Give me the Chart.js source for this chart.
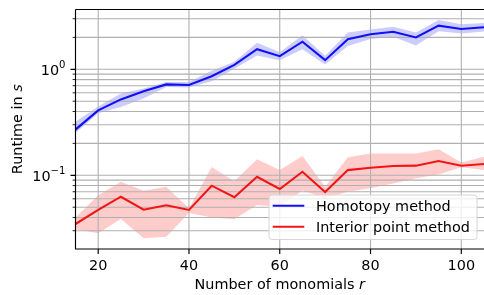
<!DOCTYPE html>
<html><head><meta charset="utf-8">
<script src="https://cdn.jsdelivr.net/npm/chart.js@4.4.0/dist/chart.umd.min.js"></script>
<style>html,body{margin:0;padding:0;background:#fff;overflow:hidden}</style>
</head><body>
<canvas id="c" width="484" height="295"></canvas>
<script>
// ---- data ----
const monomials = [15,20,25,30,35,40,45,50,55,60,65,70,75,80,85,90,95,100,105];
const homotopyMean  = [0.27,0.41,0.52,0.62,0.72,0.71,0.86,1.10,1.55,1.33,1.82,1.22,1.92,2.14,2.26,2.00,2.58,2.40,2.49];
const homotopyUpper = [0.32,0.445,0.59,0.66,0.76,0.76,0.97,1.18,1.78,1.45,2.10,1.34,2.22,2.38,2.52,2.22,2.92,2.66,2.74];
const homotopyLower = [0.25,0.385,0.44,0.53,0.68,0.675,0.77,1.01,1.35,1.22,1.55,1.11,1.66,1.93,2.03,1.68,2.28,2.18,2.27];
const interiorMean  = [0.0347,0.0471,0.0628,0.0474,0.0521,0.0471,0.0798,0.0620,0.0970,0.0743,0.108,0.0695,0.112,0.118,0.1225,0.1233,0.1365,0.123,0.128];
const interiorUpper = [0.040,0.065,0.087,0.0716,0.078,0.049,0.120,0.088,0.1416,0.112,0.152,0.078,0.148,0.161,0.161,0.161,0.176,0.132,0.150];
const interiorLower = [0.031,0.0284,0.0387,0.0255,0.0263,0.044,0.040,0.0385,0.0525,0.0506,0.072,0.0608,0.070,0.0755,0.0838,0.0937,0.102,0.119,0.112];
const seriesNames = ['Homotopy method','Interior point method'];
const xTickValues = [20,40,60,80,100];
const xTickLabels = ['20','40','60','80','100'];
const yMajorTicks = [0.1, 1];
const yMajorExponents = ['\u22121','0'];
const yMinorTicks = [0.03,0.04,0.05,0.06,0.07,0.08,0.09,0.2,0.3,0.4,0.5,0.6,0.7,0.8,0.9,2,3];
const xTitle = ['Number of monomials ', 'r'];
const yTitle = ['Runtime in ', 's'];

const FONT = '"DejaVu Sans", "Liberation Sans", sans-serif';
const FS = 14.4;
const BLUE = 'rgb(16,16,245)';
const RED = 'rgb(240,22,22)';
const GRID = '#b0b0b0';

const pts = (ys) => monomials.map((x,i)=>({x, y: ys[i]}));
const hidden = {pointRadius:0, borderWidth:0, borderColor:'rgba(0,0,0,0)', tension:0};

const decor = {
  id:'decor',
  beforeDatasetDraw(chart, args){
    if (args.index !== 1) return;
    const {ctx, chartArea:a, scales:{x,y}} = chart;
    ctx.save();
    ctx.strokeStyle = GRID; ctx.lineWidth = 1.1;
    ctx.beginPath();
    xTickValues.forEach(v=>{ const p=x.getPixelForValue(v); ctx.moveTo(p,a.top); ctx.lineTo(p,a.bottom); });
    yMajorTicks.concat(yMinorTicks).forEach(v=>{ const p=y.getPixelForValue(v); ctx.moveTo(a.left,p); ctx.lineTo(a.right,p); });
    ctx.stroke();
    ctx.restore();
  },
  afterDraw(chart){
    const {ctx, chartArea:a, scales:{x,y}} = chart;
    ctx.save();
    // spines
    ctx.strokeStyle = '#000'; ctx.lineWidth = 1.15;
    ctx.beginPath();
    ctx.moveTo(a.left, a.top); ctx.lineTo(a.left, a.bottom); ctx.lineTo(a.right, a.bottom);
    ctx.moveTo(a.left, a.top); ctx.lineTo(a.right, a.top);
    ctx.stroke();
    // ticks
    ctx.beginPath();
    xTickValues.forEach(v=>{ const p=x.getPixelForValue(v); ctx.moveTo(p,a.bottom); ctx.lineTo(p,a.bottom+5); });
    yMajorTicks.forEach(v=>{ const p=y.getPixelForValue(v); ctx.moveTo(a.left,p); ctx.lineTo(a.left-5,p); });
    ctx.stroke();
    ctx.lineWidth = 0.85;
    ctx.beginPath();
    yMinorTicks.forEach(v=>{ const p=y.getPixelForValue(v); ctx.moveTo(a.left,p); ctx.lineTo(a.left-2.9,p); });
    ctx.stroke();
    // tick labels
    ctx.fillStyle = '#000';
    ctx.textBaseline = 'alphabetic';
    ctx.font = FS + 'px ' + FONT;
    ctx.textAlign = 'center';
    xTickValues.forEach((v,i)=>{ ctx.fillText(xTickLabels[i], x.getPixelForValue(v), 269.5); });
    const rightX = a.left - 10;
    yMajorTicks.forEach((v,i)=>{
      const p = y.getPixelForValue(v);
      ctx.font = '10.1px ' + FONT; ctx.textAlign = 'right';
      const ew = ctx.measureText(yMajorExponents[i]).width;
      ctx.fillText(yMajorExponents[i], rightX, p - 1.6);
      ctx.font = FS + 'px ' + FONT;
      ctx.fillText('10', rightX - ew, p + 5.3);
    });
    // axis titles
    ctx.textAlign = 'left';
    ctx.font = FS + 'px ' + FONT;
    let w1 = ctx.measureText(xTitle[0]).width;
    ctx.font = 'italic ' + FS + 'px ' + FONT;
    let w2 = ctx.measureText(xTitle[1]).width;
    let cx = (a.left + a.right)/2, sx = cx - (w1+w2)/2;
    ctx.font = FS + 'px ' + FONT; ctx.fillText(xTitle[0], sx, 289);
    ctx.font = 'italic ' + FS + 'px ' + FONT; ctx.fillText(xTitle[1], sx + w1, 289);
    ctx.save();
    ctx.translate(22, (a.top + a.bottom)/2);
    ctx.rotate(-Math.PI/2);
    ctx.font = FS + 'px ' + FONT; w1 = ctx.measureText(yTitle[0]).width;
    ctx.font = 'italic ' + FS + 'px ' + FONT; w2 = ctx.measureText(yTitle[1]).width;
    sx = -(w1+w2)/2;
    ctx.font = FS + 'px ' + FONT; ctx.fillText(yTitle[0], sx, 0);
    ctx.font = 'italic ' + FS + 'px ' + FONT; ctx.fillText(yTitle[1], sx + w1, 0);
    ctx.restore();
    // legend
    const lx = 269, ly = 195, lw = 208, lh = 44.5, r = 3;
    ctx.beginPath();
    ctx.moveTo(lx+r, ly); ctx.lineTo(lx+lw-r, ly); ctx.arcTo(lx+lw, ly, lx+lw, ly+r, r);
    ctx.lineTo(lx+lw, ly+lh-r); ctx.arcTo(lx+lw, ly+lh, lx+lw-r, ly+lh, r);
    ctx.lineTo(lx+r, ly+lh); ctx.arcTo(lx, ly+lh, lx, ly+lh-r, r);
    ctx.lineTo(lx, ly+r); ctx.arcTo(lx, ly, lx+r, ly, r); ctx.closePath();
    ctx.fillStyle = 'rgba(255,255,255,0.8)'; ctx.fill();
    ctx.strokeStyle = '#d6d6d6'; ctx.lineWidth = 1; ctx.stroke();
    const rows = [205.7, 226.7];
    [0,1].forEach(i=>{
      const ds = chart.data.datasets[i];
      ctx.strokeStyle = ds.borderColor; ctx.lineWidth = ds.borderWidth;
      ctx.beginPath(); ctx.moveTo(272.7, rows[i]); ctx.lineTo(304.3, rows[i]); ctx.stroke();
      ctx.fillStyle = '#000'; ctx.font = FS + 'px ' + FONT; ctx.textAlign = 'left';
      ctx.fillText(ds.label, 316, rows[i] + 5.2);
    });
    ctx.restore();
  }
};

new Chart(document.getElementById('c'), {
  type: 'line',
  data: {
    datasets: [
      {label: seriesNames[0], data: pts(homotopyMean), borderColor: BLUE, borderWidth: 2.1, pointRadius: 0, fill: false, tension: 0},
      {label: seriesNames[1], data: pts(interiorMean), borderColor: RED, borderWidth: 2.1, pointRadius: 0, fill: false, tension: 0},
      Object.assign({label:'h_up', data: pts(homotopyUpper), fill: 3, backgroundColor: 'rgba(0,0,255,0.2)'}, hidden),
      Object.assign({label:'h_lo', data: pts(homotopyLower), fill: false}, hidden),
      Object.assign({label:'i_up', data: pts(interiorUpper), fill: 5, backgroundColor: 'rgba(255,0,0,0.2)'}, hidden),
      Object.assign({label:'i_lo', data: pts(interiorLower), fill: false}, hidden)
    ]
  },
  options: {
    responsive: false, animation: false, devicePixelRatio: 1,
    layout: {padding: {top: 9.5, right: -1, left: 0, bottom: 0}},
    plugins: {legend: {display: false}, tooltip: {enabled: false}},
    elements: {line: {capBezierPoints: false}},
    scales: {
      x: {type: 'linear', min: 15, max: 105, grid: {display: false}, border: {display: false},
          ticks: {display: false}, afterFit: s => { s.height = 46; }},
      y: {type: 'logarithmic', min: 0.02017, max: 3.666, grid: {display: false}, border: {display: false},
          ticks: {display: false}, afterFit: s => { s.width = 75.5; }}
    }
  },
  plugins: [decor]
});
</script>
</body></html>
